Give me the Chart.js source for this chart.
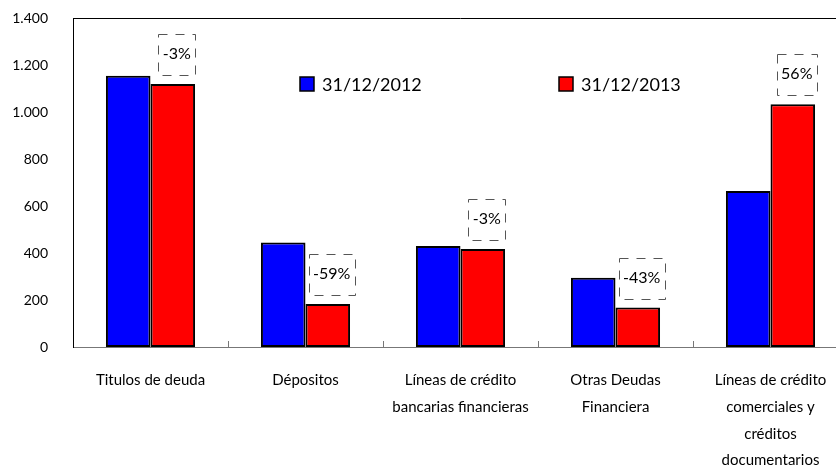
<!DOCTYPE html>
<html>
<head>
<meta charset="utf-8">
<script src="https://cdn.jsdelivr.net/npm/chart.js@4"></script>
<style>
  body { margin: 0; overflow: hidden; background: #fff; }
</style>
</head>
<body>
<canvas id="grafica" width="860" height="466"></canvas>
<script>
const categorias = [
  ["Titulos de deuda"],
  ["Dépositos"],
  ["Líneas de crédito", "bancarias financieras"],
  ["Otras Deudas", "Financiera"],
  ["Líneas de crédito", "comerciales y", "créditos", "documentarios"]
];
const valores2012 = [1154, 445, 430, 295, 664];
const valores2013 = [1119, 183, 417, 168, 1033];
const variaciones = ["-3%", "-59%", "-3%", "-43%", "56%"];
const series = ["31/12/2012", "31/12/2013"];

const fuente = "Lato, 'Noto Sans', sans-serif";

function formatoMiles(v) {
  return String(v).replace(/\B(?=(\d{3})+(?!\d))/g, ".");
}

// leyenda, marco superior, ticks internos y etiquetas de variación
const extras = {
  id: "extras",
  afterDraw(chart) {
    const ctx = chart.ctx;
    const area = chart.chartArea;
    const x = chart.scales.x;

    ctx.save();
    // linea superior del marco
    ctx.strokeStyle = "#000";
    ctx.lineWidth = 1;
    ctx.beginPath();
    ctx.moveTo(area.left, area.top + 0.5);
    ctx.lineTo(area.right, area.top + 0.5);
    ctx.stroke();

    // ticks hacia adentro entre categorias
    ctx.strokeStyle = "#777";
    for (let i = 0; i < categorias.length - 1; i++) {
      const px = Math.round((x.getPixelForValue(i) + x.getPixelForValue(i + 1)) / 2) + 0.5;
      ctx.beginPath();
      ctx.moveTo(px, area.bottom);
      ctx.lineTo(px, area.bottom - 6);
      ctx.stroke();
    }

    // leyenda
    const posLeyenda = [300, 559];
    ctx.font = "18px " + fuente;
    ctx.textBaseline = "middle";
    ctx.textAlign = "left";
    chart.data.datasets.forEach((ds, i) => {
      const lx = posLeyenda[i];
      ctx.fillStyle = ds.backgroundColor;
      ctx.fillRect(lx, 77, 14, 14);
      ctx.strokeStyle = "#000";
      ctx.lineWidth = 1.5;
      ctx.strokeRect(lx, 77, 14, 14);
      ctx.fillStyle = "#000";
      ctx.fillText(ds.label, lx + 22, 85);
    });

    // variaciones con recuadro punteado
    const meta = chart.getDatasetMeta(1);
    ctx.font = "16px " + fuente;
    ctx.textAlign = "center";
    meta.data.forEach((bar, i) => {
      const cx = bar.x + 4;
      const cy = bar.y - 30;
      const w = ctx.measureText(variaciones[i]).width + 9;
      ctx.fillStyle = "#000";
      ctx.fillText(variaciones[i], cx, cy);
      ctx.strokeStyle = "#555";
      ctx.lineWidth = 1;
      ctx.setLineDash([9, 8]);
      ctx.strokeRect(Math.round(cx - w / 2) + 0.5, Math.round(cy - 20) + 0.5, Math.round(w), 41);
      ctx.setLineDash([]);
    });
    ctx.restore();
  }
};

new Chart(document.getElementById("grafica"), {
  type: "bar",
  data: {
    labels: categorias,
    datasets: [
      {
        label: series[0],
        data: valores2012,
        backgroundColor: "#0000ff",
        borderColor: "#000",
        borderWidth: 2,
        borderSkipped: false
      },
      {
        label: series[1],
        data: valores2013,
        backgroundColor: "#ff0000",
        borderColor: "#000",
        borderWidth: 2,
        borderSkipped: false
      }
    ]
  },
  options: {
    responsive: false,
    animation: false,
    layout: { padding: { top: 18, right: 12, left: 0, bottom: 0 } },
    datasets: {
      bar: { categoryPercentage: 0.575, barPercentage: 1 }
    },
    plugins: {
      legend: { display: false },
      tooltip: { enabled: false }
    },
    scales: {
      x: {
        grid: { display: false, drawTicks: false },
        border: { display: true, color: "#777", width: 1 },
        ticks: {
          color: "#000",
          padding: 20,
          maxRotation: 0,
          autoSkip: false,
          font: { family: fuente, size: 15, lineHeight: 1.78 }
        },
        afterFit(scale) { scale.height = 119; }
      },
      y: {
        min: 0,
        max: 1400,
        grid: { display: false, drawTicks: false },
        border: { display: true, color: "#000", width: 1 },
        ticks: {
          stepSize: 200,
          color: "#000",
          padding: 25,
          font: { family: fuente, size: 14 },
          callback: (v) => formatoMiles(v)
        },
        afterFit(scale) {
          scale.width = 73;
          scale.paddingTop = 8;
          scale.paddingBottom = 8;
        }
      }
    }
  },
  plugins: [extras]
});
</script>
</body>
</html>
